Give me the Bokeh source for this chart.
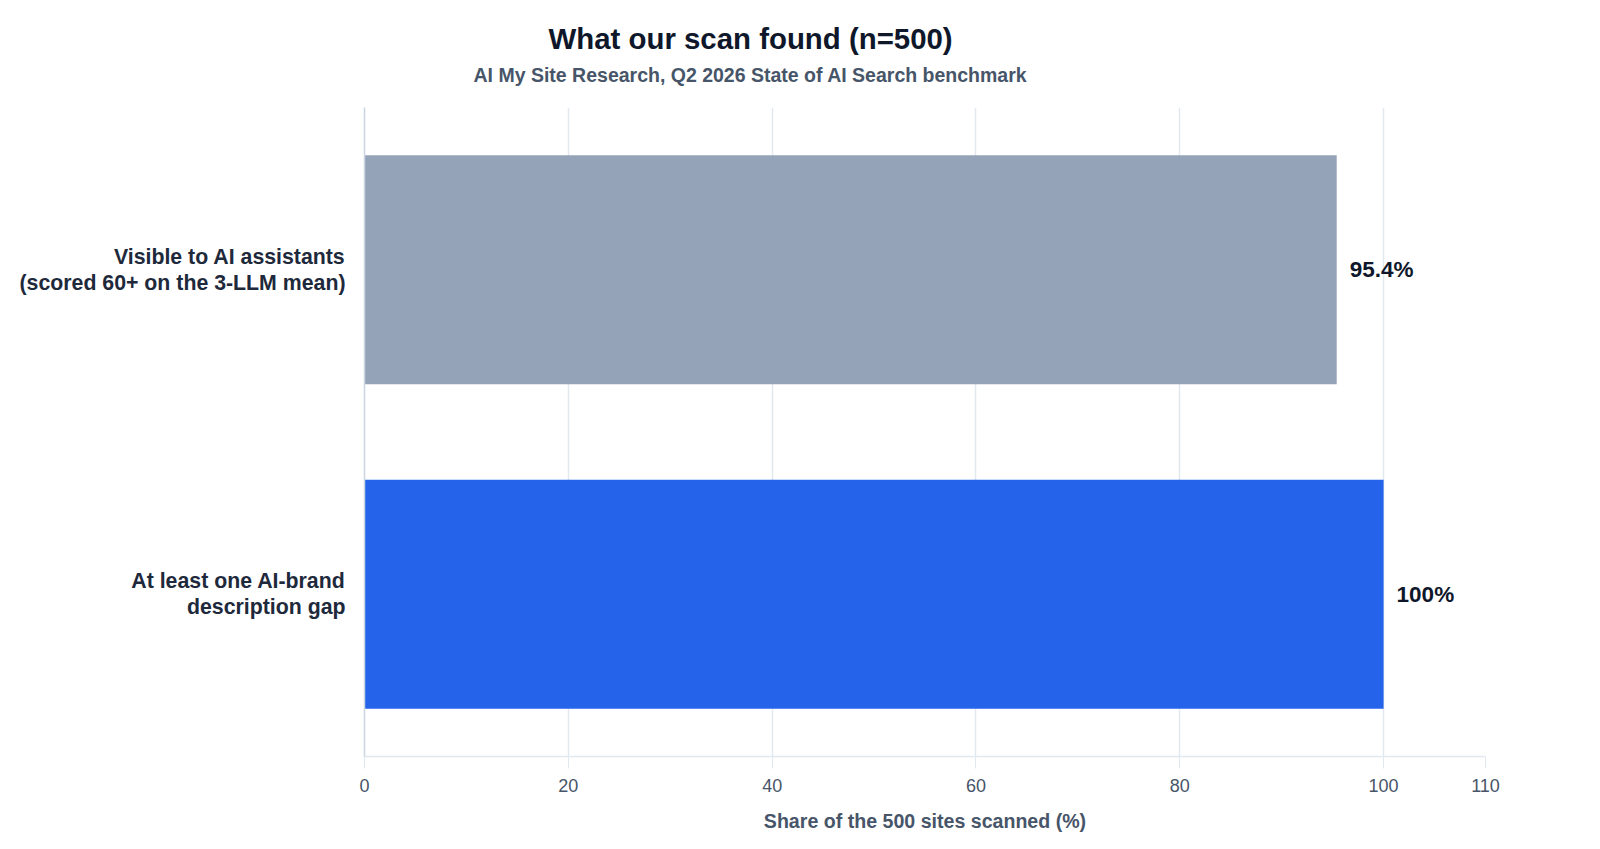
from bokeh.plotting import figure
from bokeh.models import Range1d, FactorRange, FixedTicker, Title, ColumnDataSource
from bokeh.embed import file_html
from bokeh.resources import INLINE
from bokeh.core.properties import value

# ---- data ----
categories = ["At least one AI-brand\ndescription gap",
              "Visible to AI assistants\n(scored 60+ on the 3-LLM mean)"]
shares = [100, 95.4]
value_labels = ["100%", "95.4%"]
bar_colors = ["#2563eb", "#94a3b8"]
x_ticks = [0, 20, 40, 60, 80, 100, 110]
title_text = "What our scan found (n=500)"
subtitle_text = "AI My Site Research, Q2 2026 State of AI Search benchmark"
x_label = "Share of the 500 sites scanned (%)"

FONT = "Liberation Sans"

src = ColumnDataSource(dict(cat=categories, share=shares, lab=value_labels, color=bar_colors))

p = figure(width=1584, height=841,
           y_range=FactorRange(*categories), x_range=Range1d(0, 110),
           output_backend="svg", toolbar_location=None,
           min_border_left=364, min_border_right=99,
           min_border_top=107, min_border_bottom=85)
p.outline_line_color = None
p.background_fill_color = "white"

p.hbar(y="cat", left=0, right="share", height=0.706, fill_color="color",
       line_color=None, source=src)

p.text(x="share", y="cat", text="lab", source=src, x_offset=13,
       text_baseline="middle", text_align="left",
       text_font=value(FONT), text_font_style="bold",
       text_font_size="22.5px", text_color="#0f172a")

# x axis
p.xaxis.ticker = FixedTicker(ticks=x_ticks)
p.xaxis.axis_line_color = "#e2e8f0"
p.xaxis.axis_line_width = 1.5
p.xaxis.major_tick_line_color = "#e2e8f0"
p.xaxis.major_tick_out = 12
p.xaxis.major_tick_in = 0
p.xaxis.minor_tick_line_color = None
p.xaxis.major_label_standoff = 10
p.xaxis.major_label_text_font = FONT
p.xaxis.major_label_text_font_size = "18px"
p.xaxis.major_label_text_color = "#475569"
p.xaxis.axis_label = x_label
p.xaxis.axis_label_text_font = FONT
p.xaxis.axis_label_text_font_style = "bold"
p.xaxis.axis_label_text_font_size = "19.6px"
p.xaxis.axis_label_text_color = "#475569"
p.xaxis.axis_label_standoff = 15

p.xgrid.grid_line_color = "#e2e8f0"
p.xgrid.grid_line_width = 1.5
p.ygrid.grid_line_color = None

# y axis
p.yaxis.axis_line_color = "#cbd5e1"
p.yaxis.axis_line_width = 1.5
p.yaxis.major_tick_line_color = None
p.yaxis.minor_tick_line_color = None
p.yaxis.major_tick_out = 0
p.yaxis.major_label_standoff = 19
p.yaxis.major_label_text_font = FONT
p.yaxis.major_label_text_font_style = "bold"
p.yaxis.major_label_text_font_size = "21.3px"
p.yaxis.major_label_text_line_height = 1.1
p.yaxis.major_label_text_color = "#1e293b"

# titles (first added sits closest to the plot)
p.add_layout(Title(text=" ", text_font_size="2px", standoff=14,
                   text_color="white"), "above")
p.add_layout(Title(text=subtitle_text, align="left", offset=109,
                   text_font=FONT, text_font_style="bold", text_font_size="19.5px",
                   text_color="#475569", standoff=8), "above")
p.add_layout(Title(text=title_text, align="left", offset=184,
                   text_font=FONT, text_font_style="bold", text_font_size="29.4px",
                   text_color="#0f172a", standoff=6), "above")

open("out.html", "w").write(file_html(p, INLINE))
